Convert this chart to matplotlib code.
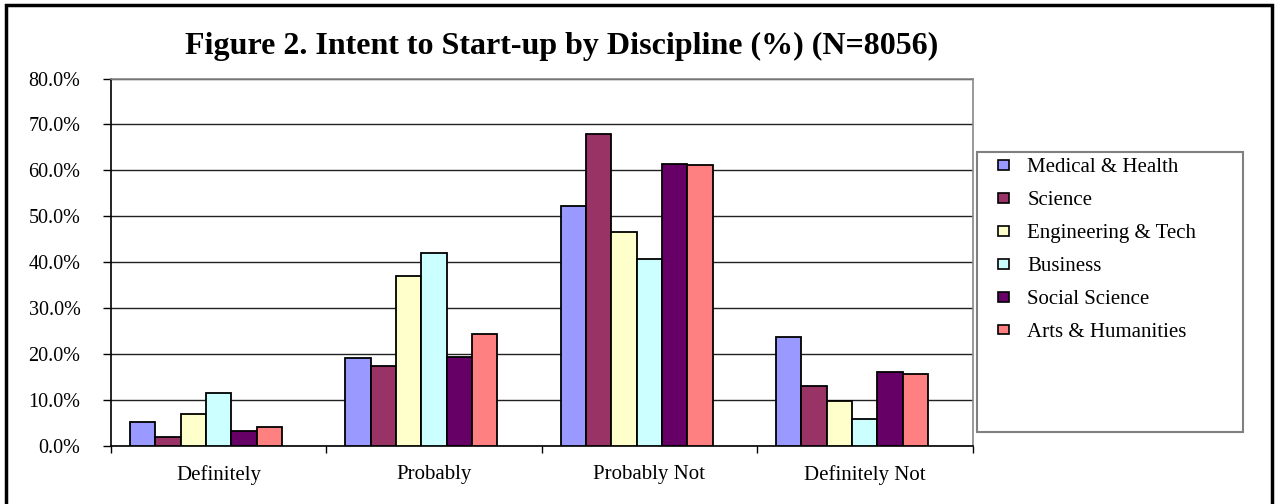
import matplotlib
matplotlib.use("Agg")
import matplotlib.pyplot as plt
from matplotlib.patches import Rectangle
from matplotlib.ticker import FuncFormatter, FixedLocator
import numpy as np

categories = ["Definitely", "Probably", "Probably Not", "Definitely Not"]
series_names = ["Medical & Health", "Science", "Engineering & Tech", "Business",
                "Social Science", "Arts & Humanities"]
medical = [5.1, 19.0, 52.3, 23.6]
science = [2.0, 17.3, 67.8, 13.0]
engineering = [6.9, 37.0, 46.5, 9.7]
business = [11.5, 42.0, 40.7, 5.8]
social = [3.3, 19.3, 61.4, 16.0]
arts = [4.1, 24.3, 61.2, 15.7]
series_values = [medical, science, engineering, business, social, arts]
colors = ["#9999FF", "#993366", "#FFFFCC", "#CCFFFF", "#660066", "#FF8080"]
yticks = [0, 10, 20, 30, 40, 50, 60, 70, 80]
title = "Figure 2. Intent to Start-up by Discipline (%) (N=8056)"

plt.rcParams['font.family'] = ['Liberation Serif', 'DejaVu Serif']

W, H = 1280, 504
fig = plt.figure(figsize=(W / 100, H / 100), dpi=100)
ax = fig.add_axes([111 / W, 1 - 445.7 / H, (972.5 - 111) / W, (445.7 - 78.5) / H])

x = np.arange(len(categories))
n_slots = 7  # Excel layout reserves room for 7 series slots
bw = 1 / (n_slots + 1.5)
for i, (name, vals, c) in enumerate(zip(series_names, series_values, colors)):
    ax.bar(x + (i - (n_slots - 1) / 2) * bw, vals, width=bw, align='center',
           color=c, edgecolor='black', linewidth=1.3, label=name, zorder=3)

ax.set_xlim(-0.5, len(categories) - 0.5)
ax.set_ylim(0, 80)
ax.yaxis.set_major_locator(FixedLocator(yticks))
ax.yaxis.set_major_formatter(FuncFormatter(lambda v, p: f"{v:.1f}%"))
ax.grid(axis='y', color='#222222', linewidth=1.0, zorder=0)

ax.set_xticks(np.arange(len(categories) + 1) - 0.5)
ax.set_xticklabels([])
ax.set_xticks(x, minor=True)
ax.set_xticklabels(categories, minor=True)
ax.tick_params(axis='x', which='major', length=5, width=1, color='black', direction='out')
ax.tick_params(axis='x', which='minor', length=0, pad=14, labelsize=15)
ax.tick_params(axis='y', length=6, width=1, color='black', direction='out', pad=16, labelsize=14.5)

for s in ['left', 'bottom']:
    ax.spines[s].set_color('black')
    ax.spines[s].set_linewidth(1.2)
for s in ['top', 'right']:
    ax.spines[s].set_color('#888888')
    ax.spines[s].set_linewidth(1.2)

fig.text(562 / W, 1 - 46 / H, title, ha='center', va='center', fontsize=23, fontweight='bold')

# legend frame
fig.patches.append(Rectangle((977 / W, 1 - 432 / H), (1243 - 977) / W, (432 - 152) / H,
                             transform=fig.transFigure, facecolor='white',
                             edgecolor='#808080', linewidth=1.5, zorder=1))
leg = fig.legend(loc='upper left', bbox_to_anchor=(992 / W, 1 - 152 / H), frameon=False,
                 fontsize=15, handlelength=0.5, handleheight=0.35, handletextpad=0.9,
                 labelspacing=0.67, borderaxespad=0, borderpad=0.3)
for h in leg.legend_handles:
    h.set_linewidth(1.2)

# outer chart frame
fig.patches.append(Rectangle((6 / W, -0.05), (1272 - 6) / W, 1.05 - 4.5 / H,
                             transform=fig.transFigure, facecolor='none',
                             edgecolor='black', linewidth=2.5, zorder=0))

fig.savefig("out.png", dpi=100)
